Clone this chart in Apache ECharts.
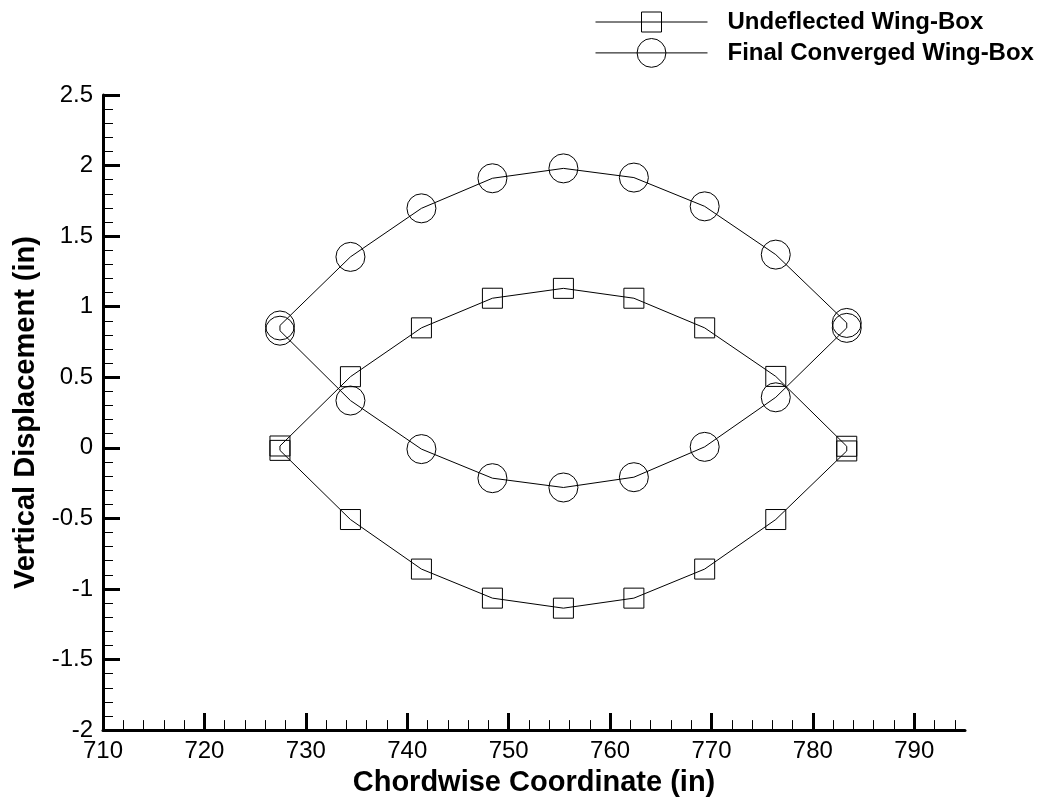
<!DOCTYPE html>
<html><head><meta charset="utf-8">
<script src="https://cdn.jsdelivr.net/npm/echarts@6/dist/echarts.min.js"></script>
<style>html,body{margin:0;padding:0;background:#fff}#c{width:1049px;height:802px}</style>
</head><body><div id="c"></div>
<script>
// ---- data ----
const chordX = [727.45, 734.4, 741.4, 748.4, 755.4, 762.35, 769.33, 776.34, 783.34];
const undeflectedUpper = [0.013, 0.504, 0.85, 1.06, 1.13, 1.06, 0.85, 0.506, 0.011];
const undeflectedLower = [-0.018, -0.508, -0.859, -1.065, -1.136, -1.065, -0.859, -0.508, -0.022];
const convergedUpper = [0.867, 1.353, 1.697, 1.910, 1.980, 1.915, 1.711, 1.369, 0.885];
const convergedLower = [0.830, 0.335, -0.009, -0.215, -0.281, -0.208, 0.007, 0.358, 0.850];
const seriesNames = ['Undeflected Wing-Box', 'Final Converged Wing-Box'];
const xMajorTicks = [710, 720, 730, 740, 750, 760, 770, 780, 790];
const xMinorTicks = [712,714,716,718,722,724,726,728,732,734,736,738,742,744,746,748,752,754,756,758,762,764,766,768,772,774,776,778,782,784,786,788,792,794];
const xTitle = 'Chordwise Coordinate (in)';
const yTitle = 'Vertical Displacement (in)';

const FONT = '"Liberation Sans", Arial, Helvetica, sans-serif';

function loop(xs, upper, lower) {
  const pts = upper.map((y, i) => [xs[i], y]);
  for (let i = lower.length - 1; i >= 0; i--) pts.push([xs[i], lower[i]]);
  pts.push({ value: [xs[0], upper[0]], symbol: 'none' });
  return pts;
}

const chart = echarts.init(document.getElementById('c'), null, { renderer: 'canvas' });

const markerStyle = { color: 'transparent', borderColor: '#000', borderWidth: 1 };
const lineStyle = { color: '#000', width: 1 };

function legendCfg(name, top, h) {
  return {
    data: [name], left: 595, top: top, orient: 'horizontal',
    itemWidth: 112, itemHeight: h, padding: 0,
    selectedMode: false,
    itemStyle: markerStyle, lineStyle: lineStyle,
    textStyle: { fontSize: 24, fontWeight: 'bold', color: '#000', fontFamily: FONT, padding: [0, 0, 0, 15] }
  };
}

chart.setOption({
  animation: false,
  backgroundColor: '#fff',
  grid: { left: 103, right: 84, top: 95, bottom: 65, containLabel: false },
  legend: [legendCfg(seriesNames[0], 10, 25), legendCfg(seriesNames[1], 38, 36)],
  xAxis: [{
    type: 'value', min: 710, max: 795, interval: 10,
    name: xTitle, nameLocation: 'middle', nameGap: 29,
    nameTextStyle: { fontSize: 29, fontWeight: 'bold', color: '#000', fontFamily: FONT },
    axisLine: { show: true, onZero: false, lineStyle: { color: '#000', width: 3 } },
    axisTick: { show: true, inside: true, length: 17, customValues: xMajorTicks, lineStyle: { color: '#000', width: 3 } },
    axisLabel: { show: true, customValues: xMajorTicks, fontSize: 24, color: '#000', fontFamily: FONT, margin: 9 },
    splitLine: { show: false }
  }, {
    type: 'value', min: 710, max: 795, position: 'bottom',
    axisLine: { show: false, onZero: false },
    axisTick: { show: true, inside: true, length: 10, customValues: xMinorTicks, lineStyle: { color: '#000', width: 1 } },
    axisLabel: { show: false },
    splitLine: { show: false }
  }],
  yAxis: {
    type: 'value', min: -2, max: 2.5, interval: 0.5,
    name: yTitle, nameLocation: 'middle', nameGap: 60,
    nameTextStyle: { fontSize: 29, fontWeight: 'bold', color: '#000', fontFamily: FONT },
    axisLine: { show: true, onZero: false, lineStyle: { color: '#000', width: 3 } },
    axisTick: { show: true, inside: true, length: 17, lineStyle: { color: '#000', width: 3 } },
    minorTick: { show: true, splitNumber: 5, length: 10, lineStyle: { color: '#000', width: 1 } },
    axisLabel: { fontSize: 24, color: '#000', fontFamily: FONT, margin: 10 },
    splitLine: { show: false }
  },
  series: [{
    name: seriesNames[0], type: 'line', xAxisIndex: 0,
    data: loop(chordX, undeflectedUpper, undeflectedLower),
    symbol: 'rect', symbolSize: 20, showAllSymbol: true,
    itemStyle: markerStyle, lineStyle: lineStyle, silent: true,
    emphasis: { disabled: true }, z: 3
  }, {
    name: seriesNames[1], type: 'line', xAxisIndex: 0,
    data: loop(chordX, convergedUpper, convergedLower),
    symbol: 'circle', symbolSize: 29, showAllSymbol: true,
    itemStyle: markerStyle, lineStyle: lineStyle, silent: true,
    emphasis: { disabled: true }, z: 3
  }]
});
</script>
</body></html>
